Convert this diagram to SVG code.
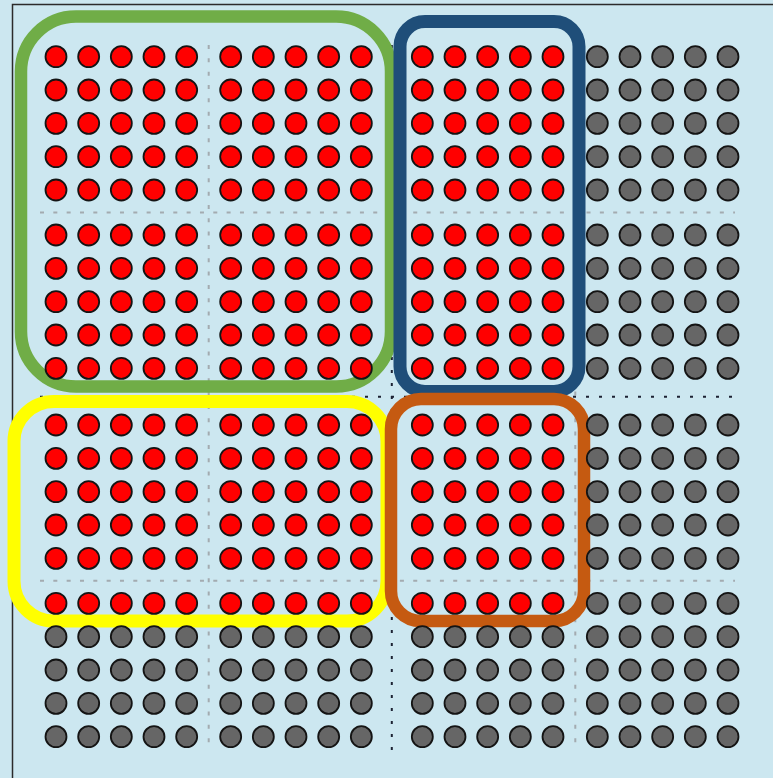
<svg xmlns="http://www.w3.org/2000/svg" xmlns:xlink="http://www.w3.org/1999/xlink" width="773" height="778" viewBox="0 0 773 778">
<style>
.bg{fill:#cce7f0}
.frame{fill:none;stroke:#2b2b2b;stroke-width:1.5}
.gl{stroke:#a3abb0;stroke-width:2;stroke-dasharray:4 9.33;fill:none}
.bl{stroke:#1c2233;stroke-width:2;stroke-dasharray:3 10;fill:none}
.dr{fill:#ff0000;stroke:#141414;stroke-width:1.8}
.dg{fill:#666666;stroke:#141414;stroke-width:1.8}
.box{fill:none}
</style>
<defs>
<g id="rowR">
<circle class="dr" cx="0" cy="0" r="10.5"/><circle class="dr" cx="32.67" cy="0" r="10.5"/><circle class="dr" cx="65.33" cy="0" r="10.5"/><circle class="dr" cx="98" cy="0" r="10.5"/><circle class="dr" cx="130.67" cy="0" r="10.5"/>
</g>
<g id="rowG">
<circle class="dg" cx="0" cy="0" r="10.5"/><circle class="dg" cx="32.67" cy="0" r="10.5"/><circle class="dg" cx="65.33" cy="0" r="10.5"/><circle class="dg" cx="98" cy="0" r="10.5"/><circle class="dg" cx="130.67" cy="0" r="10.5"/>
</g>
<g id="blkR">
<use xlink:href="#rowR" y="0"/><use xlink:href="#rowR" y="33.33"/><use xlink:href="#rowR" y="66.67"/><use xlink:href="#rowR" y="100"/><use xlink:href="#rowR" y="133.33"/>
</g>
<g id="blkG">
<use xlink:href="#rowG" y="0"/><use xlink:href="#rowG" y="33.33"/><use xlink:href="#rowG" y="66.67"/><use xlink:href="#rowG" y="100"/><use xlink:href="#rowG" y="133.33"/>
</g>
</defs>
<rect class="bg" x="0" y="0" width="773" height="778"/>
<rect class="frame" x="12.5" y="4.5" width="800" height="800"/>
<g id="guides">
<line class="gl" x1="208.7" y1="45" x2="208.7" y2="745"/>
<line class="gl" x1="575.3" y1="45" x2="575.3" y2="745"/>
<line class="gl" x1="40" y1="212.5" x2="735" y2="212.5"/>
<line class="gl" x1="40" y1="580.8" x2="735" y2="580.8"/>
<line class="bl" x1="391.8" y1="45" x2="391.8" y2="757"/>
<line class="bl" x1="40" y1="396.7" x2="735" y2="396.7"/>
</g>
<g id="green-box"><rect class="box" x="21" y="16.5" width="370" height="370" rx="55" stroke="#70ad47" stroke-width="12.5"/></g>
<g id="blue-box"><rect class="box" x="400" y="21.5" width="179" height="370" rx="25" stroke="#1f4e79" stroke-width="13"/></g>
<g id="yellow-box"><rect class="box" x="14" y="401.5" width="373" height="219.5" rx="40" stroke="#ffff00" stroke-width="13"/></g>
<g id="orange-box"><rect class="box" x="391" y="399" width="193" height="222" rx="30" stroke="#c55a11" stroke-width="12.5"/></g>
<g id="dots">
<use xlink:href="#blkR" x="56" y="56.67"/><use xlink:href="#blkR" x="230.67" y="56.67"/><use xlink:href="#blkR" x="422.33" y="56.67"/><use xlink:href="#blkG" x="597.33" y="56.67"/>
<use xlink:href="#blkR" x="56" y="235"/><use xlink:href="#blkR" x="230.67" y="235"/><use xlink:href="#blkR" x="422.33" y="235"/><use xlink:href="#blkG" x="597.33" y="235"/>
<use xlink:href="#blkR" x="56" y="425"/><use xlink:href="#blkR" x="230.67" y="425"/><use xlink:href="#blkR" x="422.33" y="425"/><use xlink:href="#blkG" x="597.33" y="425"/>
<use xlink:href="#rowR" x="56" y="603.33"/><use xlink:href="#rowR" x="230.67" y="603.33"/><use xlink:href="#rowR" x="422.33" y="603.33"/>
<use xlink:href="#rowG" x="56" y="636.67"/><use xlink:href="#rowG" x="56" y="670"/><use xlink:href="#rowG" x="56" y="703.33"/><use xlink:href="#rowG" x="56" y="736.67"/>
<use xlink:href="#rowG" x="230.67" y="636.67"/><use xlink:href="#rowG" x="230.67" y="670"/><use xlink:href="#rowG" x="230.67" y="703.33"/><use xlink:href="#rowG" x="230.67" y="736.67"/>
<use xlink:href="#rowG" x="422.33" y="636.67"/><use xlink:href="#rowG" x="422.33" y="670"/><use xlink:href="#rowG" x="422.33" y="703.33"/><use xlink:href="#rowG" x="422.33" y="736.67"/>
<use xlink:href="#blkG" x="597.33" y="603.33"/>
</g>
</svg>
